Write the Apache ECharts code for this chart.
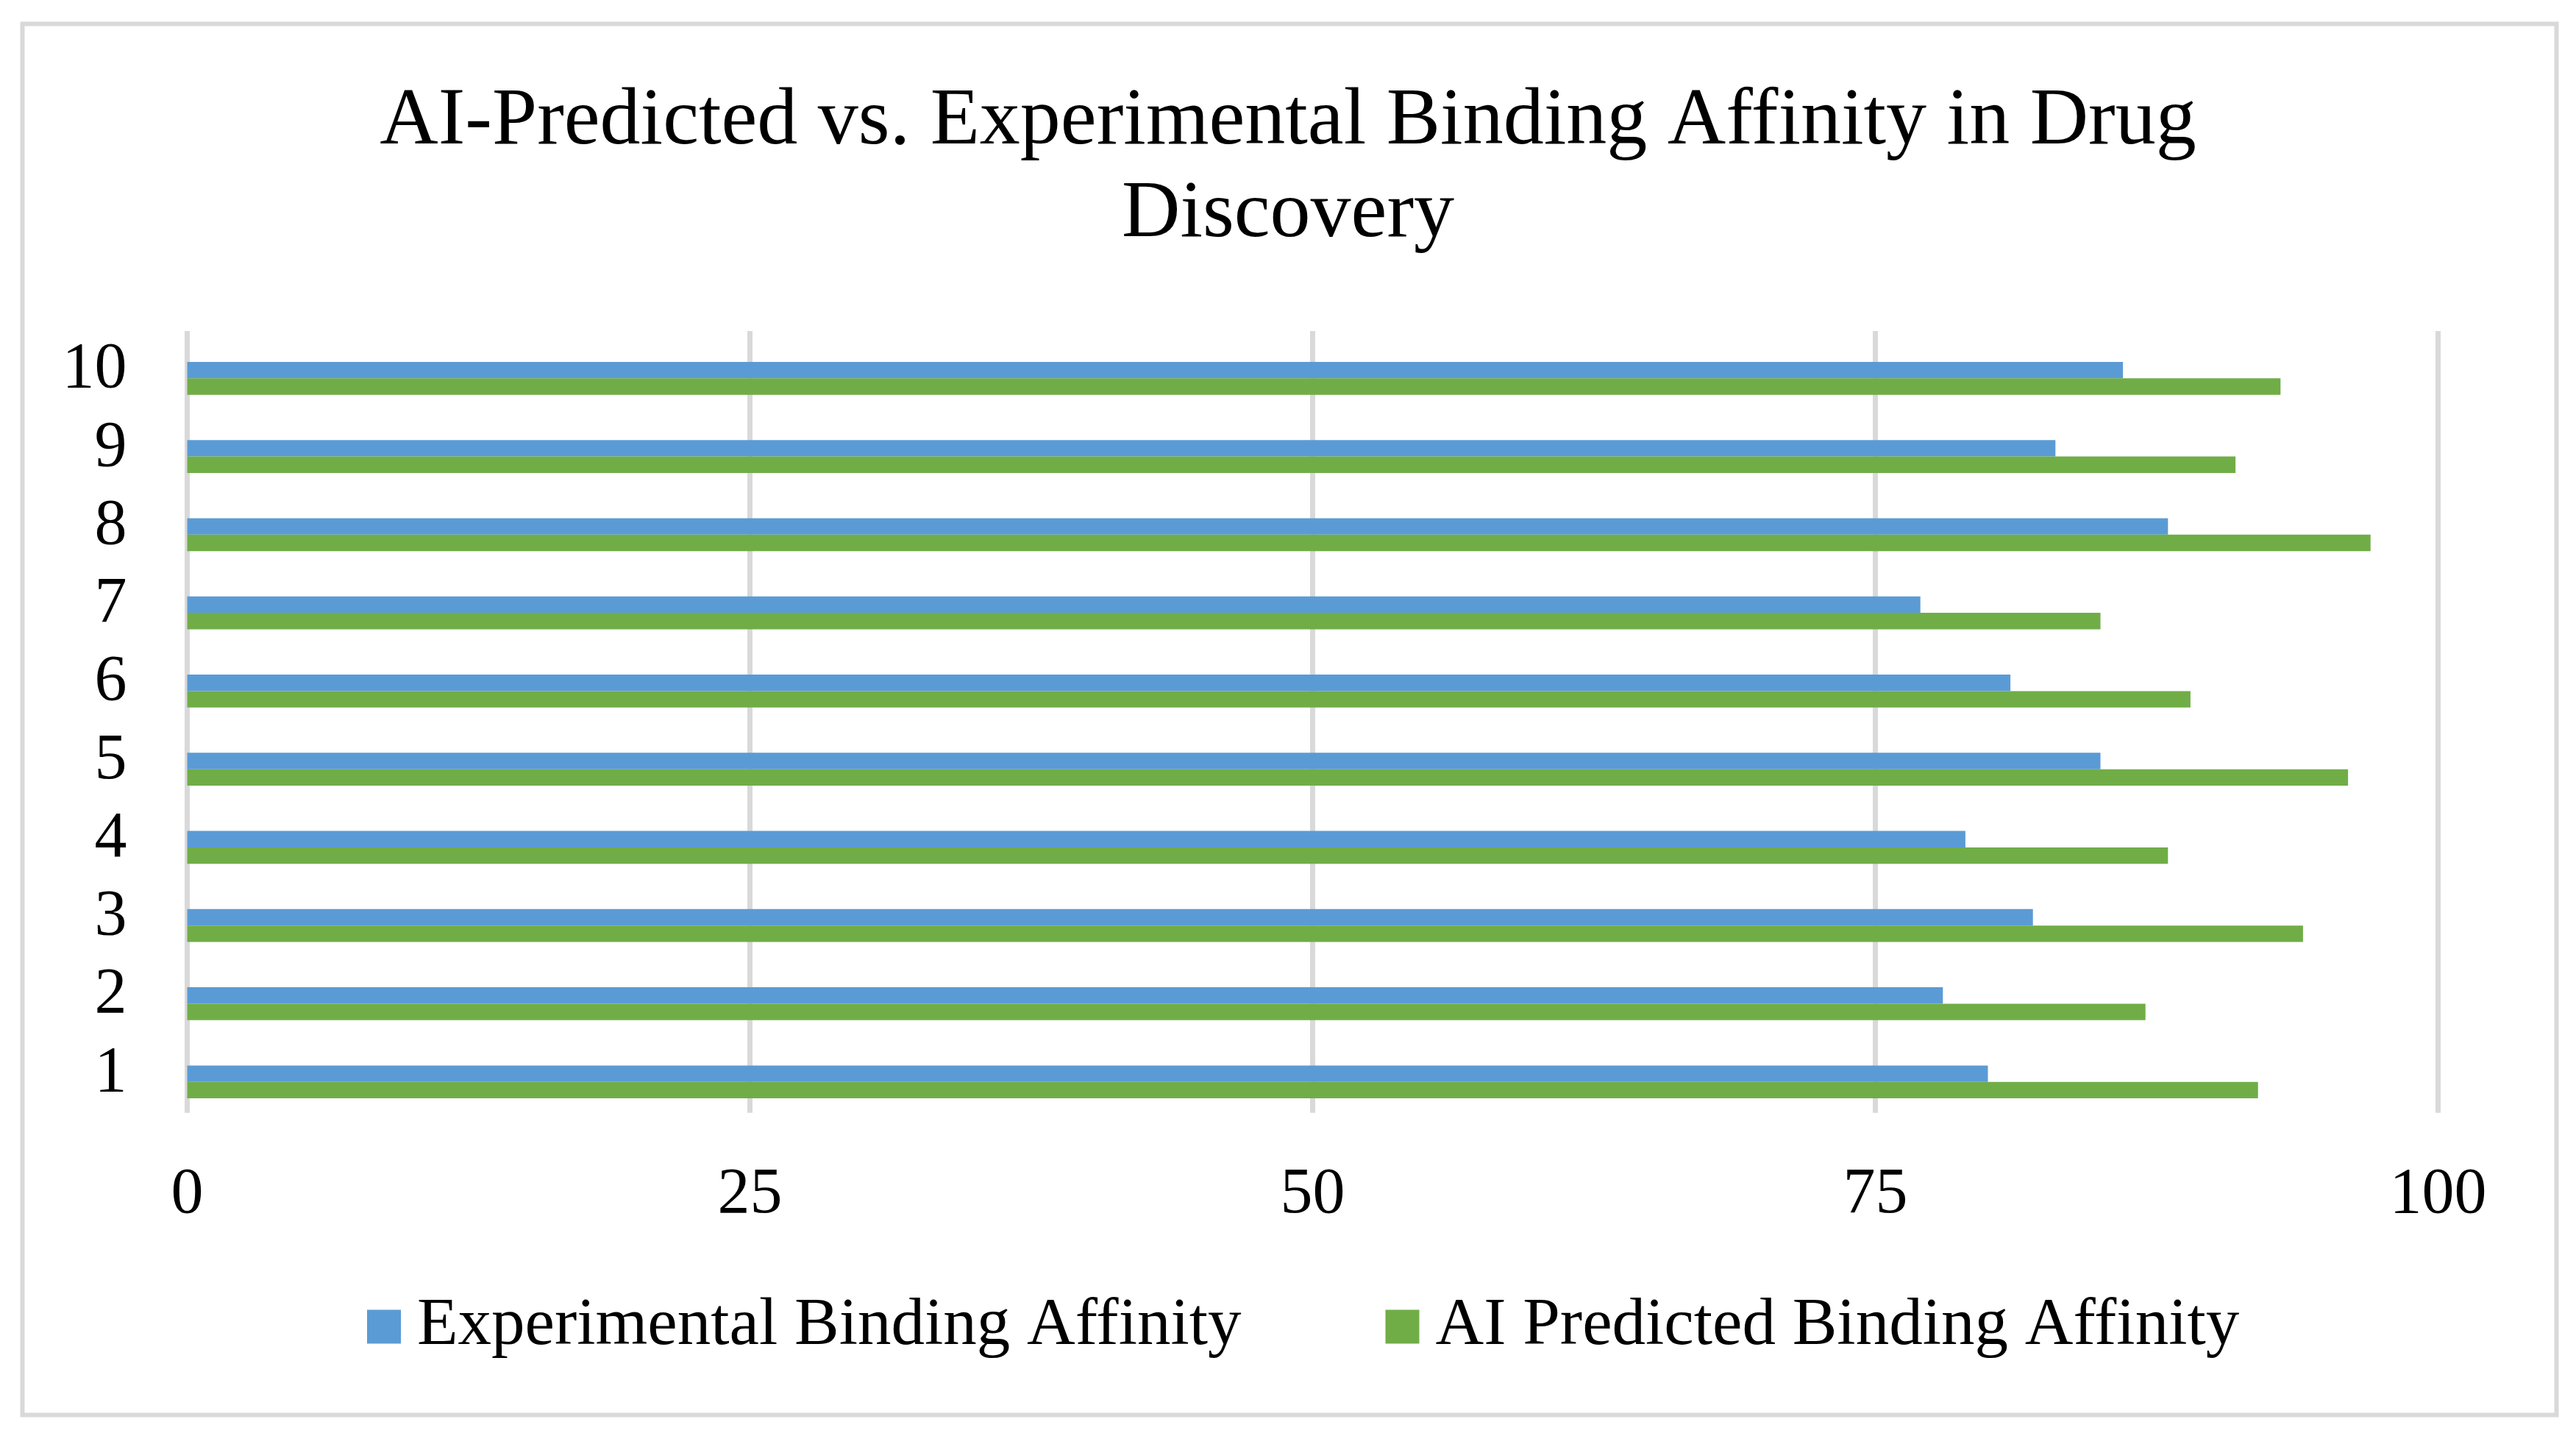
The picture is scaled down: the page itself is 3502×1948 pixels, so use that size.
<!DOCTYPE html>
<html>
<head>
<meta charset="utf-8">
<script src="https://cdn.jsdelivr.net/npm/echarts@6/dist/echarts.min.js"></script>
<style>
html,body{margin:0;padding:0;background:#fff;}
#chart{width:3502px;height:1948px;}
</style>
</head>
<body>
<div id="chart"></div>
<script>
const titleText = 'AI-Predicted vs. Experimental Binding Affinity in Drug\nDiscovery';
const categories = ['1','2','3','4','5','6','7','8','9','10'];
const experimental = [80, 78, 82, 79, 85, 81, 77, 88, 83, 86];
const aiPredicted = [92, 87, 94, 88, 96, 89, 85, 97, 91, 93];
const xTicks = [0, 25, 50, 75, 100];
const seriesNames = ['Experimental Binding Affinity', 'AI Predicted Binding Affinity'];

const FONT = '"Liberation Serif", "Times New Roman", serif';
const chart = echarts.init(document.getElementById('chart'), null, {renderer: 'canvas'});
const BW = 22.35;
chart.setOption({
  backgroundColor: '#ffffff',
  animation: false,
  graphic: [{
    type: 'rect',
    shape: {x: 30.5, y: 32.5, width: 3445, height: 1891},
    style: {fill: 'none', stroke: '#d9d9d9', lineWidth: 6},
    silent: true, z: -1
  }],
  title: {
    text: titleText,
    left: 'center',
    top: 98,
    textStyle: {fontFamily: FONT, fontSize: 110, lineHeight: 126, fontWeight: 'normal', color: '#000000'}
  },
  legend: {
    data: seriesNames,
    left: 494,
    top: 1753,
    icon: 'rect',
    itemWidth: 46,
    itemHeight: 46,
    itemGap: 196,
    textStyle: {fontFamily: FONT, fontSize: 91, color: '#000000', padding: [0, 0, 0, 17]}
  },
  grid: {left: 254.5, right: 187.5, top: 450, bottom: 1948 - 1512.7, containLabel: false},
  xAxis: {
    type: 'value',
    min: xTicks[0],
    max: xTicks[xTicks.length - 1],
    interval: xTicks[1] - xTicks[0],
    axisLine: {show: false},
    axisTick: {show: false},
    splitLine: {show: true, lineStyle: {color: '#d9d9d9', width: 7}},
    axisLabel: {fontFamily: FONT, fontSize: 88, color: '#000000', margin: 68}
  },
  yAxis: {
    type: 'category',
    data: categories,
    axisLine: {show: false},
    axisTick: {show: false},
    splitLine: {show: false},
    axisLabel: {fontFamily: FONT, fontSize: 88, color: '#000000', margin: 82, interval: 0, padding: [14, 0, 0, 0]}
  },
  series: [
    {name: 'spacer', type: 'bar', data: [], barWidth: BW, barGap: 0, silent: true},
    {name: seriesNames[0], type: 'bar', data: experimental, barWidth: BW, barGap: 0,
      itemStyle: {color: '#5b9bd5'}},
    {name: seriesNames[1], type: 'bar', data: aiPredicted, barWidth: BW, barGap: 0,
      itemStyle: {color: '#70ad47'}}
  ]
});
</script>
</body>
</html>
